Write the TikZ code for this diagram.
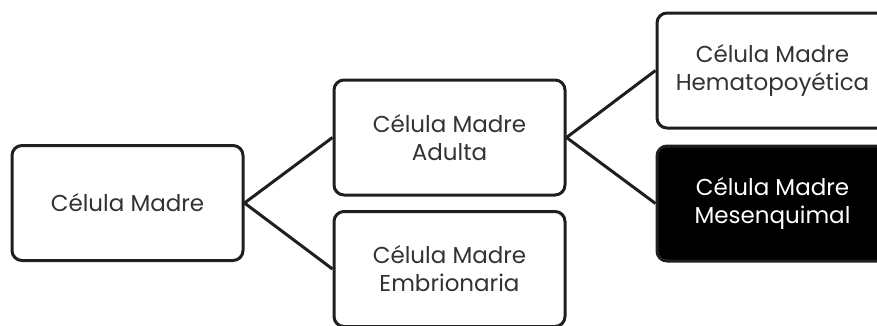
\documentclass[tikz,border=0pt]{standalone}
\usepackage{fontspec}
\setmainfont{Poppins}
\begin{document}
\begin{tikzpicture}[x=1pt,y=1pt,
  box/.style={draw=black!88,line width=3pt,rounded corners=10pt,fill=white,
    minimum width=231pt,minimum height=115pt,inner sep=0pt,align=center,
    text=black!80,font=\fontsize{23}{28}\selectfont\mdseries},
  darkbox/.style={box,fill=black,text=white},
  link/.style={draw=black!88,line width=3pt}]
\useasboundingbox (0,0) rectangle (877,325);
\clip (0,0) rectangle (877,325);
\node[box] (root) at (127.5,122) {Célula Madre};
\node[box] (adult) at (449.5,187.5) {Célula Madre\\Adulta};
\node[box] (emb) at (449.5,56) {Célula Madre\\Embrionaria};
\node[box] (hema) at (772.5,254.5) {Célula Madre\\Hematopoyética};
\node[darkbox] (meso) at (772.5,121.5) {Célula Madre\\Mesenquimal};
\draw[link] (root.east) -- (adult.west);
\draw[link] (root.east) -- (emb.west);
\draw[link] (adult.east) -- (hema.west);
\draw[link] (adult.east) -- (meso.west);
\end{tikzpicture}
\end{document}
